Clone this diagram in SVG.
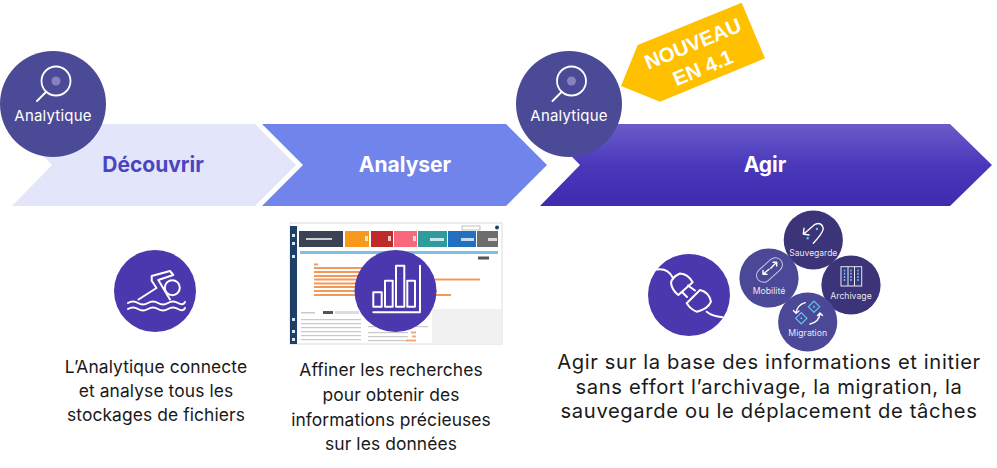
<svg xmlns="http://www.w3.org/2000/svg" width="997" height="468" viewBox="0 0 997 468">
<style>
.f{font-family:"Inter","Liberation Sans",sans-serif}
.bodyb{font-family:"Inter","Liberation Sans",sans-serif;fill:#1a1a1a;text-anchor:middle}
.lab{fill:#fff;text-anchor:middle;font-family:"Inter","Liberation Sans",sans-serif}
.ln{fill:none;stroke:#fff;stroke-width:2;stroke-linecap:round;stroke-linejoin:round}
.ls{fill:none;stroke:#fff;stroke-width:1.4;stroke-linecap:round;stroke-linejoin:round}
.cy{fill:none;stroke:#5fc4e8;stroke-width:1.2}
.cd{fill:#5fc4e8}
.big{font-size:21px;font-weight:700;text-anchor:middle}
</style>
<defs>
<linearGradient id="ag" x1="0" y1="0" x2="0" y2="1"><stop offset="0" stop-color="#6a5cc9"/><stop offset="0.5" stop-color="#4a38bb"/><stop offset="1" stop-color="#3d2bb0"/></linearGradient>
<filter id="soft" x="-2%" y="-2%" width="104%" height="104%"><feGaussianBlur stdDeviation="0.6"/></filter>
<g id="mag"><circle cx="0" cy="-5" r="14.5" fill="none" stroke="#fff" stroke-width="1.8"/><circle cx="0" cy="-5" r="4.5" fill="#8683c0"/><path d="M-10,6 L-19,15" class="ln"/></g>
</defs>
<g id="connectors"></g>
<g id="step-decouvrir"><polygon points="12,206 52,165 12,124 255,124 296,165 255,206" fill="#e3e6fa"/><text x="153" y="172" class="f big" fill="#4b45c0">Découvrir</text></g>
<g id="step-analyser"><polygon points="262,124 506,124 547,165 506,206 262,206 303,165" fill="#7084ec"/><text x="405" y="172" class="f big" fill="#fff">Analyser</text></g>
<g id="step-agir"><polygon points="540,206 580,165 540,124 950,124 992,165 950,206" fill="url(#ag)"/><text x="765" y="172" class="f big" fill="#fff">Agir</text></g>
<g id="analytique-1"><circle cx="53" cy="104" r="53" fill="#4b4a97"/><use href="#mag" x="56" y="86"/><text x="53" y="121" class="lab" font-size="15" letter-spacing=".2">Analytique</text></g>
<g id="analytique-2"><circle cx="569" cy="104" r="53" fill="#4b4a97"/><use href="#mag" x="571.5" y="86"/><text x="569" y="121" class="lab" font-size="15" letter-spacing=".2">Analytique</text></g>
<g id="badge"><polygon points="637.7,45 741.7,2.7 765,58.3 660,101.7 621,86" fill="#ffc000"/><text transform="translate(695.6,50.2) rotate(-22.5)" text-anchor="middle" font-family="Liberation Sans,sans-serif" font-weight="700" font-size="20.5" fill="#fff"><tspan x="0" y="0">NOUVEAU</tspan><tspan x="0" y="26">EN 4.1</tspan></text></g>
<g id="swim"><circle cx="155" cy="291" r="41" fill="#4b38ae"/>
<path class="ln" d="M128,303 Q133,300 138,303 T148,303 T158,303 T168,303 T178,303 T185,302"/><path class="ln" d="M128,309 Q133,306 138,309 T148,309 T158,309 T168,309 T178,309 T185,308"/>
<path class="ln" d="M138.5,299.5 L156.5,288 L151.7,280.7 V276 L170,271 L173.3,275 L158.3,280 L170,299.5"/><circle cx="172.3" cy="287.7" r="7.5" class="ln"/></g>
<g id="screenshot"><g filter="url(#soft)"><rect x="290" y="223" width="212" height="121" fill="#fff" stroke="#dcdcdc"/>
<rect x="290" y="226" width="7" height="118" fill="#1d3f66"/>
<g fill="#dfe6ee"><rect x="292" y="234" width="3" height="3"/><rect x="292" y="242" width="3" height="3"/><rect x="292" y="255" width="3" height="3"/><rect x="292" y="318" width="3" height="3"/><rect x="292" y="330" width="3" height="3"/><rect x="292" y="338" width="3" height="3"/></g>
<rect x="299" y="231" width="44" height="16" fill="#3a4252"/><rect x="345" y="231" width="24" height="16" fill="#f79a1e"/><rect x="371" y="231" width="22" height="16" fill="#c12a2a"/><rect x="394" y="231" width="23" height="16" fill="#f7687a"/><rect x="418" y="231" width="29" height="16" fill="#2f9c9c"/><rect x="448" y="231" width="28" height="16" fill="#2470c0"/><rect x="477" y="231" width="21" height="16" fill="#6d6d6d"/>
<g fill="#fff" fill-opacity=".75"><rect x="306" y="238" width="26" height="2"/><rect x="365" y="236" width="3" height="5"/><rect x="388" y="236" width="3" height="5"/><rect x="413" y="236" width="3" height="5"/><rect x="430" y="238" width="14" height="3"/><rect x="461" y="238" width="13" height="3"/><rect x="488" y="238" width="9" height="3"/></g>
<rect x="462" y="226" width="18" height="4" fill="#fff" stroke="#999" stroke-width=".6"/><circle cx="497" cy="227.5" r="2" fill="#1d3f66"/>
<rect x="300" y="251" width="198" height="3" fill="#7ec0e4"/>
<rect x="478" y="256.5" width="11" height="3" fill="#555"/>
<g fill="#f2995a"><rect x="314" y="263.5" width="4" height="2"/><rect x="314" y="267" width="62" height="2"/><rect x="314" y="271" width="50" height="2"/><rect x="314" y="275" width="55" height="2"/><rect x="314" y="278.5" width="166" height="2"/><rect x="314" y="282.5" width="60" height="2"/><rect x="314" y="286" width="55" height="2"/><rect x="314" y="290" width="123" height="2"/><rect x="314" y="294" width="137" height="2"/></g>
<rect x="432" y="309" width="69" height="35" fill="#f1f1f1"/>
<rect x="323" y="311" width="10" height="3" fill="#555"/><rect x="335" y="311" width="24" height="3" fill="#ddd"/>
<g fill="#c9c9c9"><rect x="301" y="312" width="14" height="1.5"/><rect x="301" y="319" width="60" height="1.2"/><rect x="301" y="323" width="60" height="1.2"/><rect x="301" y="327" width="60" height="1.2"/><rect x="301" y="331" width="60" height="1.2"/><rect x="301" y="335" width="60" height="1.2"/><rect x="301" y="339" width="60" height="1.2"/><rect x="368" y="326" width="60" height="1.2"/><rect x="368" y="332" width="40" height="1.2"/><rect x="368" y="336" width="40" height="1.2"/><rect x="368" y="340" width="40" height="1.2"/></g>
<g fill="#f5ab75"><rect x="411" y="331.5" width="5" height="2"/><rect x="412" y="335.5" width="4" height="2"/><rect x="406" y="339.5" width="10" height="2"/></g></g></g>
<g id="chart"><circle cx="395.5" cy="291" r="41" fill="#4b38ae"/><g class="ln"><rect x="373.3" y="292.3" width="8.4" height="14.4"/><rect x="385" y="280.7" width="7.7" height="26"/><rect x="396" y="265.7" width="8.3" height="41"/><rect x="407.3" y="280.7" width="7.7" height="26"/><path d="M373.3,312.3 H420 V265.7"/></g></g>
<text class="bodyb" font-size="17.4" letter-spacing=".1"><tspan x="156" y="373">L’Analytique connecte</tspan><tspan x="156" y="397">et analyse tous les</tspan><tspan x="156" y="421">stockages de fichiers</tspan></text>
<text class="bodyb" font-size="17.4" letter-spacing=".1"><tspan x="391" y="376">Affiner les recherches</tspan><tspan x="391" y="401">pour obtenir des</tspan><tspan x="391" y="426">informations précieuses</tspan><tspan x="391" y="450">sur les données</tspan></text>
<text class="bodyb" font-size="20.2" letter-spacing=".63"><tspan x="769" y="369">Agir sur la base des informations et initier</tspan><tspan x="769" y="393.5">sans effort l’archivage, la migration, la</tspan><tspan x="769" y="418">sauvegarde ou le déplacement de tâches</tspan></text>
<g id="plug"><circle cx="689" cy="295" r="41" fill="#4b38ae"/><g class="ln"><path d="M657,269.5 Q668,268 673,278"/><path d="M678.3,295 L692.7,282.3 Q688,274 680,273.5 Q672,277 671,283 Q672,290 678.3,295 Z"/><path d="M682,292 L687,297 M688,285.5 L695,290.5"/><path d="M686.7,303.3 L700,290 Q709,292 711,301.7 Q708,309 697,311.7 Q691,310 686.7,303.3 Z"/><path d="M706.7,311.7 Q712,316 722.7,317.3"/></g></g>
<g id="sauvegarde"><circle cx="813.3" cy="240" r="29.6" fill="#3b3478"/><path class="ls" d="M804,233.7 L815,224.3 Q821.7,221.7 823.3,228.3 Q823,233 813.3,243.3 M804,228.3 L803.3,234 L809,235"/><circle class="cd" cx="807.7" cy="238.3" r="1.2"/><circle class="cd" cx="817" cy="229" r="1.2"/><text x="813.3" y="256" class="lab" font-size="8.5" fill-opacity=".9">Sauvegarde</text></g>
<g id="archivage"><circle cx="851" cy="285" r="29.6" fill="#3b3478"/><g fill="none" stroke="#e8e8f5"><rect x="841" y="266.7" width="20.7" height="19.3"/><path d="M848,266.7 V286 M854.5,266.7 V286"/></g><path d="M844.5,269.5 V281 M851,269.5 V281 M858,269.5 V281" stroke="#5fc4e8" stroke-width="1.5" stroke-dasharray="2 1.2"/><text x="851" y="299" class="lab" font-size="8.7" fill-opacity=".9">Archivage</text></g>
<g id="mobilite"><circle cx="769" cy="278" r="29.6" fill="#4b4898"/><rect x="754.5" y="263" width="30" height="14" rx="7" transform="rotate(-42 769.5 270)" fill="none" stroke="#c8c8e8"/><path class="ls" stroke-width="1.2" d="M763.3,274 L769,269.3 M763,270.5 V274.3 H767 M770.7,268.3 L776.7,262.3 M773,262.3 H776.7 V266"/><text x="769" y="294" class="lab" font-size="8.7" fill-opacity=".9">Mobilité</text></g>
<g id="migration"><circle cx="807.7" cy="322" r="29.6" fill="#4b4898"/><g class="cy"><rect x="810" y="302.7" width="8" height="8" transform="rotate(45 814 306.7)"/><rect x="797.3" y="314.3" width="8" height="8" transform="rotate(45 801.3 318.3)"/></g><circle class="cd" cx="814" cy="306.7" r="1"/><circle class="cd" cx="801.3" cy="318.3" r="1"/><path class="ls" stroke-width="1.2" d="M796,313.3 Q797,305 805.3,302.7 M793.5,310.5 L796,313.3 L799,311 M820,313.3 Q819,322 810,324 M817.5,315.5 L820,313 L822.5,315.5"/><text x="807.7" y="336" class="lab" font-size="8.7" fill-opacity=".9">Migration</text></g>
</svg>
